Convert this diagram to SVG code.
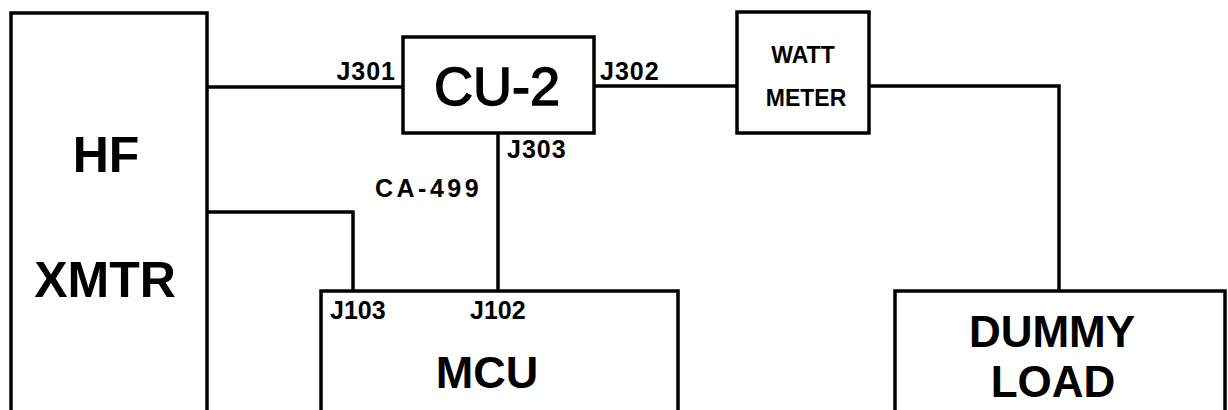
<svg xmlns="http://www.w3.org/2000/svg" width="1228" height="410" viewBox="0 0 1228 410">
<style>
.box{fill:#fff;stroke:#000;stroke-width:3.5}
.wire{fill:none;stroke:#000;stroke-width:3.5;stroke-linejoin:miter}
.big{font-family:"Liberation Sans",Arial,sans-serif;font-weight:bold;font-size:50px;fill:#000;text-anchor:middle}
.cu{font-family:"Liberation Sans",Arial,sans-serif;font-size:54px;fill:#000;stroke:#000;stroke-width:1.5;text-anchor:middle}
.mid{font-family:"Liberation Sans",Arial,sans-serif;font-weight:bold;font-size:23px;fill:#000;text-anchor:middle}
.lbl{font-family:"Liberation Sans",Arial,sans-serif;font-weight:bold;font-size:25px;fill:#000}
</style>
<rect width="1228" height="410" fill="#fff"/>
<g id="connectors">
<polyline class="wire" points="207,87 403,87"/>
<polyline class="wire" points="594,86 737,86"/>
<polyline class="wire" points="869,86 1059,86 1059,291"/>
<polyline class="wire" points="498,133 498,291"/>
<polyline class="wire" points="207,212 353,212 353,291"/>
</g>
<g id="hf-xmtr">
<rect class="box" x="11" y="13" width="196" height="405"/>
<text class="big" x="106" y="172">HF</text>
<text class="big" x="105" y="297">XMTR</text>
</g>
<g id="cu-2">
<rect class="box" x="403" y="37" width="191" height="96"/>
<text class="cu" x="497" y="105">CU-2</text>
<text class="lbl" x="396" y="80" text-anchor="end" letter-spacing="1">J301</text>
<text class="lbl" x="600" y="80" letter-spacing="1">J302</text>
<text class="lbl" x="507" y="158" letter-spacing="1">J303</text>
<text class="lbl" x="375" y="197" letter-spacing="3.5">CA-499</text>
</g>
<g id="watt-meter">
<rect class="box" x="737" y="12" width="132" height="121"/>
<text class="mid" x="803" y="63">WATT</text>
<text class="mid" x="806" y="106">METER</text>
</g>
<g id="mcu">
<rect class="box" x="321" y="291" width="357" height="130"/>
<text class="lbl" x="330" y="319">J103</text>
<text class="lbl" x="470" y="319">J102</text>
<text class="big" x="487" y="388" style="font-size:45px">MCU</text>
</g>
<g id="dummy-load">
<rect class="box" x="895" y="291" width="330" height="130"/>
<text class="big" x="1052" y="347" style="font-size:44px">DUMMY</text>
<text class="big" x="1053" y="397" style="font-size:44px">LOAD</text>
</g>
</svg>
